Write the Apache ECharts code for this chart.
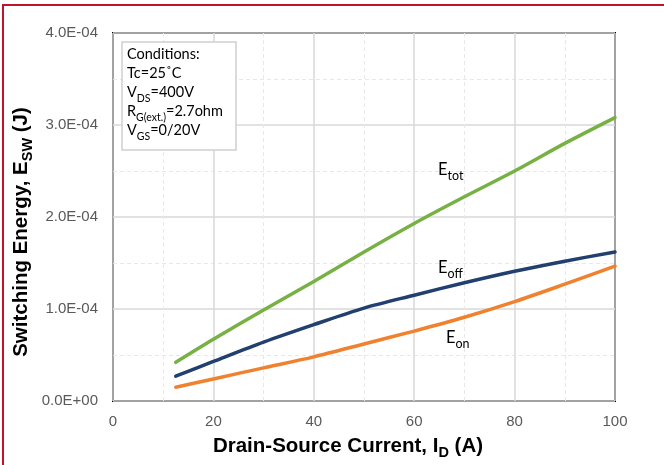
<!DOCTYPE html>
<html>
<head>
<meta charset="utf-8">
<script src="https://cdn.jsdelivr.net/npm/echarts@6/dist/echarts.min.js"></script>
<style>
  html, body { margin: 0; padding: 0; background: #fff; }
  #chart { width: 664px; height: 465px; }
</style>
</head>
<body>
<div id="chart"></div>
<script>
// Drain-source current (A)
const currentA = [12.5, 20, 30, 40, 50, 60, 70, 80, 90, 100];
// Switching energies (J)
const eTot = [0.42e-4, 0.67e-4, 0.99e-4, 1.30e-4, 1.62e-4, 1.93e-4, 2.22e-4, 2.50e-4, 2.80e-4, 3.08e-4];
const eOff = [0.27e-4, 0.43e-4, 0.64e-4, 0.83e-4, 1.01e-4, 1.15e-4, 1.285e-4, 1.41e-4, 1.52e-4, 1.62e-4];
const eOn  = [0.15e-4, 0.24e-4, 0.36e-4, 0.48e-4, 0.62e-4, 0.76e-4, 0.91e-4, 1.08e-4, 1.27e-4, 1.466e-4];
// Y tick labels, one per 1E-04 step
const yTickLabels = ['0.0E+00', '1.0E-04', '2.0E-04', '3.0E-04', '4.0E-04'];

const pairs = (xs, ys) => xs.map((x, i) => [x, ys[i]]);

const GRAY = '#595959';
const LABEL_FONT = 'Lato, "Open Sans", sans-serif';
const AXIS_FONT = '"Liberation Sans", Arial, sans-serif';

const chart = echarts.init(document.getElementById('chart'));

const condRich = {
  m: { fontFamily: LABEL_FONT, fontSize: 14.5, color: '#000', lineHeight: 19, verticalAlign: 'top' },
  s: { fontFamily: LABEL_FONT, fontSize: 10.5, color: '#000', lineHeight: 11, padding: [8, 0, 0, 0], verticalAlign: 'top' }
};

const titleRich = {
  t: { fontFamily: AXIS_FONT, fontWeight: 'bold', fontSize: 20.5, color: GRAY, lineHeight: 23, verticalAlign: 'top' },
  s: { fontFamily: AXIS_FONT, fontWeight: 'bold', fontSize: 14.5, color: GRAY, lineHeight: 15, padding: [10, 0, 0, 0], verticalAlign: 'top' }
};

function seriesLabel(sub, x, y) {
  return {
    type: 'text', x: x, y: y, z: 51,
    style: {
      text: '{m|E}{s|' + sub + '}',
      rich: {
        m: { fontFamily: LABEL_FONT, fontSize: 16.5, color: '#000', lineHeight: 18, verticalAlign: 'top' },
        s: { fontFamily: LABEL_FONT, fontSize: 12.5, color: '#000', lineHeight: 12, padding: [8, 0, 0, 0], verticalAlign: 'top' }
      }
    }
  };
}

const lineSeries = (name, data, color) => ({
  name: name,
  type: 'line',
  data: pairs(currentA, data),
  smooth: 0.3,
  symbol: 'none',
  lineStyle: { color: color, width: 3.5, cap: 'round' },
  z: 5
});

chart.setOption({
  animation: false,
  backgroundColor: '#fff',
  grid: {
    left: 113, right: 49, top: 33, bottom: 64,
    show: true, borderColor: '#000', borderWidth: 2
  },
  xAxis: {
    type: 'value', min: 0, max: 100, interval: 20,
    axisLine: { show: false },
    axisTick: { show: false },
    axisLabel: { color: GRAY, fontFamily: AXIS_FONT, fontSize: 15, margin: 13 },
    splitLine: { show: true, lineStyle: { color: '#d9d9d9', width: 1.5 } },
    minorTick: { show: false, splitNumber: 2 },
    minorSplitLine: { show: true, lineStyle: { color: '#e8e8e8', type: [4, 3], width: 1 } }
  },
  yAxis: {
    type: 'value', min: 0, max: 4e-4, interval: 1e-4,
    axisLine: { show: false },
    axisTick: { show: false },
    axisLabel: {
      color: GRAY, fontFamily: AXIS_FONT, fontSize: 15, margin: 15,
      formatter: v => yTickLabels[Math.round(v / 1e-4)]
    },
    splitLine: { show: true, lineStyle: { color: '#d9d9d9', width: 1.5 } },
    minorTick: { show: false, splitNumber: 2 },
    minorSplitLine: { show: true, lineStyle: { color: '#e8e8e8', type: [4, 3], width: 1 } }
  },
  series: [
    lineSeries('Etot', eTot, '#77b144'),
    lineSeries('Eoff', eOff, '#213f6f'),
    lineSeries('Eon', eOn, '#f0812f')
  ],
  graphic: [
    // outer frame
    {
      type: 'rect', shape: { x: 3, y: 5, width: 700, height: 500 },
      style: { fill: null, stroke: '#c0142d', lineWidth: 2 }, z: 100, silent: true
    },
    // axis titles
    {
      type: 'text', x: 348, y: 447, z: 50,
      style: {
        text: '{t|Drain-Source Current, I}{s|D}{t| (A)}',
        align: 'center', verticalAlign: 'middle', rich: titleRich
      }
    },
    {
      type: 'text', x: 22, y: 232, rotation: Math.PI / 2, z: 50,
      style: {
        text: '{t|Switching Energy, E}{s|SW}{t| (J)}',
        align: 'center', verticalAlign: 'middle', rich: titleRich
      }
    },
    // conditions box
    {
      type: 'rect', shape: { x: 122, y: 42, width: 114, height: 108 },
      style: { fill: '#fff', stroke: '#d0d0d0', lineWidth: 1.5 }, z: 50
    },
    {
      type: 'text', x: 127, y: 47, z: 51,
      style: {
        text: '{m|Conditions:}\n{m|Tc=25˚C}\n{m|V}{s|DS}{m|=400V}\n{m|R}{s|G(ext.)}{m|=2.7ohm}\n{m|V}{s|GS}{m|=0/20V}',
        rich: condRich
      }
    },
    seriesLabel('tot', 438, 161),
    seriesLabel('off', 438, 259),
    seriesLabel('on', 446, 329)
  ]
});
</script>
</body>
</html>
